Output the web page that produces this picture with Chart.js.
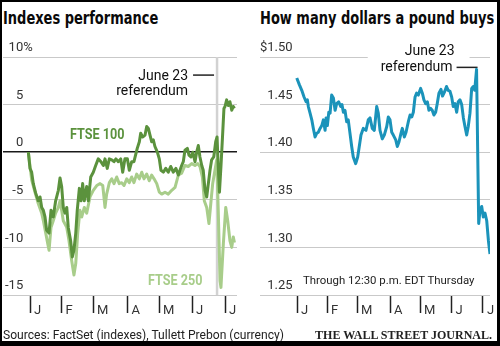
<!DOCTYPE html>
<html>
<head>
<meta charset="utf-8">
<title>Indexes performance / How many dollars a pound buys</title>
<script src="https://cdn.jsdelivr.net/npm/chart.js"></script>
<style>
  html, body { margin: 0; padding: 0; background: #fff; }
  #page { position: relative; width: 500px; height: 346px; overflow: hidden; font-family: Roboto, sans-serif; color: #111; }
  #edge { position: absolute; left: 0; top: 0; right: 0; bottom: 0; border: solid #000; border-width: 2px 3px 5px 2px; }
  canvas { position: absolute; top: 0; }
  #leftChart { left: 0; }
  #rightChart { left: 250px; }
  .title { position: absolute; top: 9.5px; font-family: "Liberation Sans Narrow", "DejaVu Sans Condensed", sans-serif; font-weight: bold; font-size: 17px; line-height: 1; white-space: nowrap; color: #0a0a0a; transform: scaleX(0.85); transform-origin: left top; }
  .small { position: absolute; line-height: 1; white-space: nowrap; }
</style>
</head>
<body>
<div id="page">
  <div class="title" style="left:3px">Indexes performance</div>
  <div class="title" style="left:260px">How many dollars a pound buys</div>
  <canvas id="leftChart" width="250" height="346"></canvas>
  <canvas id="rightChart" width="250" height="346"></canvas>
  <div class="small" style="left:303px; top:275px; font-size:11.4px; color:#222">Through 12:30 p.m. EDT Thursday</div>
  <div class="small" style="left:3px; top:328.5px; font-size:12.1px; color:#222">Sources: FactSet (indexes), Tullett Prebon (currency)</div>
  <div class="small" style="right:8px; top:329px; font-family:'Liberation Serif', serif; font-weight:bold; font-size:12px; color:#222">THE WALL STREET JOURNAL.</div>
  <div id="edge"></div>
</div>
<script>
// x values are weekdays counted from Jan. 1
const monthLabels = ["J", "F", "M", "A", "M", "J", "J"];
const monthStarts = [0, 21, 42, 65, 86, 108, 130];
const indexTicks = [-15, -10, -5, 0, 5, 10];
const dollarTicks = [1.25, 1.30, 1.35, 1.40, 1.45, 1.50];

// percent change since the end of 2015
const ftse100Days = [-1.1, 0, 1.1, 2.2, 3.8, 5.5, 6.7, 7.8, 8.9, 10,
    11.1, 12.7, 14, 15.5, 17.1, 18.9, 20, 21.1, 22.2, 23.3,
    24.5, 25.5, 27.1, 28.2, 29.3, 30.5, 31.5, 32.9, 34, 35.1,
    36.2, 37.8, 38.9, 40.5, 42.2, 43.8, 45.5, 47.3, 48.9, 50,
    51.5, 52.9, 54.5, 56, 57.3, 58.9, 60.5, 61.8, 63.3, 64.9,
    66.2, 67.8, 69.3, 70.7, 71.5, 72.9, 73.8, 75.1, 76.7, 77.8,
    78.9, 80, 81.1, 82.2, 83.3, 84.9, 86.2, 87.3, 88.9, 90.5,
    92.2, 93.8, 95.5, 97.3, 98.9, 100, 101.1, 102.2, 103.3, 104.9,
    106, 107.3, 108.5, 110, 111.1, 112.2, 113.3, 114.5, 115.5, 116.7,
    117.8, 118.9, 120, 121.1, 122.5, 123.8, 124.7, 125.5, 126.3, 127.3,
    128.3, 129.3, 130, 131.1, 132.2, 133.3, 134.5, 135.5, 136.3];
const ftse100Values = [0, -1.7, -2.1, -3.3, -4.3, -5.1, -4.7, -5.8, -6.1, -6.8,
    -8.2, -8.5, -6.1, -6.8, -5.1, -4.0, -2.7, -3.6, -5.8, -6.4,
    -5.8, -7.9, -9.3, -11, -10.3, -8.5, -6.1, -3.8, -5.1, -3.3,
    -5.1, -3.6, -5.1, -2.6, -2.1, -1.4, -0.7, -1.0, -1.4, -0.7,
    -1.7, -0.7, -0.8, -1.0, -0.7, -1.0, -0.7, -2.1, -0.7, -0.7,
    -1.9, -1.0, -1.0, -0.1, 0.4, 1.1, 2.0, 1.6, 1.8, 2.7,
    2.5, 1.8, 1.1, 1.3, 0.6, 0.0, -0.7, -1.9, -2.1, -1.7,
    -2.1, -1.5, -2.1, -1.7, -2.4, -1.9, -1.4, -1.0, 0.2, 0.4,
    -0.3, -0.5, 0.0, -1.0, 0.0, 0.7, -0.5, -1.4, -1.9, -4.0,
    -4.7, -3.3, -1.9, -0.8, -0.5, 1.1, 1.6, -1.5, -4.2, -1.5,
    1.5, 4.6, 4.8, 5.5, 4.9, 5.3, 4.4, 4.8, 4.6];

const ftse250Days = [-1.1, 1.1, 3.3, 5.5, 7.8, 8.9, 10.5, 11.8, 12.7, 14,
    15.5, 17.1, 18.9, 20, 21.1, 22.2, 24.5, 26, 27.8, 29.3,
    30.5, 31.8, 33.3, 34.5, 36.2, 37.8, 40, 42.2, 44.5, 46.7,
    48.5, 50, 51.1, 52.9, 54.5, 56, 57.8, 59.5, 61.1, 62.7,
    64.5, 66.2, 67.8, 69.3, 71.1, 72.9, 74.5, 76, 77.8, 79.5,
    81.1, 82.7, 84.5, 86.2, 87.8, 90, 92.2, 94.5, 96.7, 98.9,
    101.1, 103.3, 105.5, 107.8, 110, 111.8, 113.3, 114.9, 116.2, 117.8,
    119.3, 120.7, 121.8, 123.3, 124.5, 125.5, 126.7, 127.3, 128.9, 130.5,
    131.8, 133.3, 134.5, 135.5, 136.3];
const ftse250Values = [0, -2.9, -4.2, -5.4, -6.4, -7.2, -8.5, -9.6, -10.3, -7.9,
    -7.2, -6.4, -5.8, -5.1, -6.1, -7.2, -7.9, -9.3, -11.4, -12.9,
    -11.7, -8.5, -6.1, -6.8, -5.8, -6.4, -4.7, -4.0, -3.5, -3.3,
    -3.5, -5.8, -4.4, -3.2, -2.8, -3.3, -2.6, -3.3, -3.2, -3.5,
    -2.8, -3.2, -2.6, -3.2, -2.3, -2.8, -2.1, -2.8, -2.3, -3.0,
    -2.4, -2.8, -3.3, -4.2, -4.4, -4.2, -4.4, -4.0, -3.7, -2.4,
    -2.2, -1.4, -1.5, -1.2, -1.4, -1.2, -1.5, -2.6, -5.1, -5.8,
    -7.5, -5.1, -3.3, -1.9, -0.8, -6.1, -13.5, -14.2, -9.6, -5.8,
    -7.2, -9.3, -10, -8.9, -9.5];

// dollars per pound
const gbpDays = [-0.2, 1.6, 3.3, 4.9, 6.3, 7.2, 7.9, 9.1, 10.3, 11.4,
    12.6, 13.8, 14.9, 16.1, 17.3, 18.4, 19.6, 20.3, 21.2, 22.2,
    23.1, 24.2, 25.4, 26.6, 27.7, 29.1, 30.5, 31.4, 32.4, 33.5,
    34.7, 35.8, 37, 38.2, 39.3, 41, 42.4, 43.5, 44.7, 46.3,
    48.2, 49.8, 51, 52.6, 54, 55.7, 56.8, 58, 59.6, 61,
    62.7, 63.8, 65, 66.2, 67.3, 69, 70.1, 71.3, 72.7, 73.6,
    75, 76.2, 77.8, 79, 80.2, 81.3, 82.5, 83.6, 84.8, 86.4,
    87.6, 88.7, 89.9, 91.1, 92.2, 93.4, 94.5, 95.7, 96.9, 98,
    99.2, 100.6, 101.7, 103.3, 104.5, 105.7, 106.9, 108.1, 109.2, 110.4,
    111.6, 112.7, 113.9, 115.1, 116.3, 117.4, 118.6, 119.7, 120.9, 122.1,
    123.2, 124.2, 125.5, 127, 127.9, 129.1, 130.2, 131.4, 132.6, 133.8,
    134.9];
const gbpValues = [1.478, 1.471, 1.465, 1.458, 1.453, 1.455, 1.448, 1.441, 1.434, 1.425,
    1.416, 1.420, 1.421, 1.425, 1.428, 1.434, 1.423, 1.436, 1.428, 1.442,
    1.441, 1.460, 1.457, 1.444, 1.451, 1.453, 1.448, 1.450, 1.442, 1.444,
    1.432, 1.434, 1.420, 1.406, 1.395, 1.388, 1.395, 1.406, 1.418, 1.425,
    1.423, 1.434, 1.436, 1.425, 1.423, 1.448, 1.441, 1.423, 1.414, 1.418,
    1.427, 1.437, 1.434, 1.421, 1.418, 1.413, 1.406, 1.411, 1.420, 1.425,
    1.416, 1.421, 1.432, 1.439, 1.437, 1.442, 1.458, 1.462, 1.460, 1.467,
    1.462, 1.455, 1.451, 1.453, 1.444, 1.446, 1.444, 1.439, 1.442, 1.451,
    1.462, 1.466, 1.459, 1.464, 1.469, 1.465, 1.464, 1.458, 1.448, 1.451,
    1.442, 1.453, 1.455, 1.450, 1.436, 1.427, 1.418, 1.427, 1.441, 1.467,
    1.469, 1.465, 1.487, 1.325, 1.339, 1.343, 1.332, 1.336, 1.328, 1.307,
    1.293];

const referendumLeft = 124.7;
const referendumRight = 125.5;

const darkGreen = "#5b923d";
const lightGreen = "#a8cd8a";
const blue = "#1b93ba";

Chart.defaults.font.family = "Roboto";
Chart.defaults.color = "#333";

function points(days, values) {
    return days.map((d, i) => ({ x: d, y: values[i] }));
}

function monthAxis(min, max) {
    return {
        type: "linear",
        min: min,
        max: max,
        afterBuildTicks: s => { s.ticks = monthStarts.map(v => ({ value: v })); },
        afterFit: s => { s.height = 51; },
        border: { display: false },
        grid: { drawOnChartArea: false, drawTicks: true, tickLength: 18, tickColor: "#222", tickWidth: 1.5 },
        ticks: {
            autoSkip: false, maxRotation: 0, align: "start", labelOffset: 4, padding: -10,
            font: { size: 13 }, color: "#333",
            callback: (v, i) => monthLabels[i]
        }
    };
}

// bold series name, squeezed a little
function seriesName(ctx, text, x, y, color) {
    ctx.save();
    ctx.translate(x, y);
    ctx.scale(0.9, 1);
    ctx.font = "bold 14px Roboto";
    ctx.fillStyle = color;
    ctx.textAlign = "left";
    ctx.fillText(text, 0, 0);
    ctx.restore();
}

// line marker, labels and % sign on the index panel
const leftNotes = {
    id: "leftNotes",
    beforeDatasetsDraw(chart) {
        const { ctx, chartArea, scales: { x, y } } = chart;
        const rx = x.getPixelForValue(referendumLeft);
        ctx.save();
        ctx.strokeStyle = "#d2d2d2";
        ctx.lineWidth = 2.5;
        ctx.beginPath();
        ctx.moveTo(rx, chartArea.top);
        ctx.lineTo(rx, chartArea.bottom);
        ctx.stroke();

        const ly = y.getPixelForValue(8.1);
        ctx.strokeStyle = "#222";
        ctx.lineWidth = 1.5;
        ctx.beginPath();
        ctx.moveTo(rx - 24, ly);
        ctx.lineTo(rx - 3, ly);
        ctx.stroke();
        ctx.font = "14px Roboto";
        ctx.fillStyle = "#111";
        ctx.textAlign = "right";
        ctx.fillText("June 23", rx - 29, ly + 5);
        ctx.fillText("referendum", rx - 29, ly + 20);
        ctx.restore();

        seriesName(ctx, "FTSE 100", x.getPixelForValue(26.7), y.getPixelForValue(1.35), darkGreen);
        seriesName(ctx, "FTSE 250", x.getPixelForValue(78.7), y.getPixelForValue(-13.9), lightGreen);
    },
    afterDraw(chart) {
        const { ctx, chartArea, scales: { y } } = chart;
        ctx.save();
        ctx.font = "13px Roboto";
        const widest = Math.max(...indexTicks.map(v => ctx.measureText(String(v)).width));
        ctx.fillStyle = "#333";
        ctx.textAlign = "left";
        ctx.textBaseline = "middle";
        ctx.fillText("%", chartArea.left + 2 + widest, y.getPixelForValue(10) - 9);
        ctx.restore();
    }
};

// callout for the referendum on the currency panel
const rightNotes = {
    id: "rightNotes",
    beforeDatasetsDraw(chart) {
        const { ctx, scales: { x, y } } = chart;
        const i = gbpDays.indexOf(referendumRight);
        const px = x.getPixelForValue(gbpDays[i]);
        const py = y.getPixelForValue(gbpValues[i]);
        const right = px - 22;
        ctx.save();
        ctx.font = "14px Roboto";
        const w = ctx.measureText("referendum").width;
        ctx.fillStyle = "#fff";
        ctx.fillRect(right - w - 15, py - 30, w + 30, 36);
        ctx.strokeStyle = "#222";
        ctx.lineWidth = 1.5;
        ctx.beginPath();
        ctx.moveTo(right + 2, py - 2);
        ctx.lineTo(px + 1, py - 2);
        ctx.stroke();
        ctx.fillStyle = "#111";
        ctx.textAlign = "right";
        ctx.fillText("June 23", right, py - 14);
        ctx.fillText("referendum", right - 2, py + 2);
        ctx.restore();
    }
};

new Chart(document.getElementById("leftChart"), {
    type: "line",
    data: {
        datasets: [
            {
                label: "FTSE 100",
                data: points(ftse100Days, ftse100Values),
                borderColor: darkGreen,
                borderWidth: 3,
                pointRadius: 0,
                borderJoinStyle: "round"
            },
            {
                label: "FTSE 250",
                data: points(ftse250Days, ftse250Values),
                borderColor: lightGreen,
                borderWidth: 3,
                pointRadius: 0,
                borderJoinStyle: "round"
            }
        ]
    },
    options: {
        responsive: false,
        animation: false,
        layout: { padding: { left: 3, right: 13, top: 57, bottom: 0 } },
        plugins: { legend: { display: false }, tooltip: { enabled: false } },
        scales: {
            x: monthAxis(-18, 138),
            y: {
                min: -15,
                max: 10,
                afterBuildTicks: s => { s.ticks = indexTicks.map(v => ({ value: v })); },
                afterFit: s => { s.width = 0; },
                border: { display: false },
                grid: {
                    drawTicks: false,
                    color: c => c.tick.value === 0 ? "#1a1a1a" : "#c9c9c9",
                    lineWidth: c => c.tick.value === 0 ? 1.5 : 1
                },
                ticks: { mirror: true, crossAlign: "far", padding: 2, labelOffset: -9, font: { size: 13 }, color: "#333" }
            }
        }
    },
    plugins: [leftNotes]
});

new Chart(document.getElementById("rightChart"), {
    type: "line",
    data: {
        datasets: [
            {
                label: "Dollars per pound",
                data: points(gbpDays, gbpValues),
                borderColor: blue,
                borderWidth: 3,
                pointRadius: 0,
                borderJoinStyle: "round"
            }
        ]
    },
    options: {
        responsive: false,
        animation: false,
        layout: { padding: { left: 10, right: 10, top: 57, bottom: 0 } },
        plugins: { legend: { display: false }, tooltip: { enabled: false } },
        scales: {
            x: monthAxis(-25.9, 134.9),
            y: {
                min: 1.25,
                max: 1.5,
                afterBuildTicks: s => { s.ticks = dollarTicks.map(v => ({ value: v })); },
                afterFit: s => { s.width = 0; },
                border: { display: false },
                grid: { drawTicks: false, color: "#c9c9c9", lineWidth: 1 },
                ticks: {
                    mirror: true, crossAlign: "far", padding: 0, labelOffset: -9, font: { size: 13 }, color: "#333",
                    callback: v => (v === 1.5 ? "$" : "") + v.toFixed(2)
                }
            }
        }
    },
    plugins: [rightNotes]
});
</script>
</body>
</html>
